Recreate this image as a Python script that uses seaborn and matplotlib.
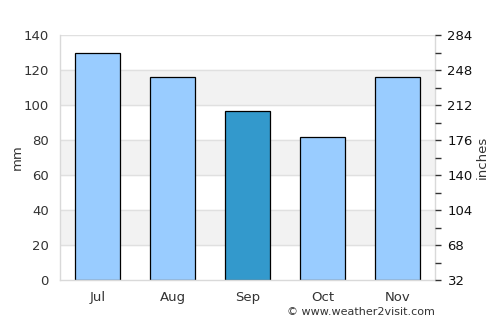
import pandas as pd
import numpy as np
import matplotlib.pyplot as plt
import seaborn as sns

# data
months = ["Jul", "Aug", "Sep", "Oct", "Nov"]
rain_mm = [129.5, 115.8, 96.5, 81.5, 116.2]
bar_colors = ["#99ccff", "#99ccff", "#3399cc", "#99ccff", "#99ccff"]
right_labels = ["32", "68", "104", "140", "176", "212", "248", "284"]

df = pd.DataFrame({"month": months, "mm": rain_mm})

sns.set_style("white")
plt.rcParams["font.family"] = ["DejaVu Sans"]

fig = plt.figure(figsize=(5, 3.25), dpi=100)
ax = fig.add_axes([0.12, 0.138, 0.75, 0.754])

# alternating bands
for lo in [20, 60, 100]:
    ax.axhspan(lo, lo + 20, color="#f2f2f2", zorder=0)
for y in range(20, 141, 20):
    ax.axhline(y, color="#e0e0e0", lw=1, zorder=0.5)

sns.barplot(data=df, x="month", y="mm", hue="month", palette=bar_colors,
            legend=False, width=0.6, edgecolor="black", linewidth=0.9,
            saturation=1, ax=ax, zorder=2)

ax.set_xlim(-0.5, 4.5)
ax.set_ylim(0, 140)
ax.set_yticks(range(0, 141, 20))
ax.set_ylabel("mm", color="#333333", fontsize=9.5)
ax.yaxis.set_label_coords(-0.096, 0.5)
ax.set_xlabel("")
ax.tick_params(axis="y", length=0, labelsize=9.5, labelcolor="#333333", pad=8)
ax.tick_params(axis="x", length=0, labelsize=9.5, labelcolor="#333333", pad=8)
for s in ["left", "bottom", "right", "top"]:
    ax.spines[s].set_color("#d9d9d9")
    ax.spines[s].set_linewidth(1)
ax.spines["top"].set_visible(False)

ax2 = ax.twinx()
ax2.set_ylim(0, 140)
ax2.set_yticks(range(0, 141, 20))
ax2.set_yticklabels(right_labels)
ax2.set_yticks(range(10, 141, 20), minor=True)
ax2.tick_params(axis="y", which="both", length=4, width=1, color="#333333",
                labelsize=9.5, labelcolor="#111111", pad=5)
ax2.set_ylabel("inches", color="#333333", fontsize=9.5)
ax2.yaxis.set_label_coords(1.109, 0.5)
for s in ax2.spines.values():
    s.set_visible(False)

fig.text(0.87, 0.025, "© www.weather2visit.com", ha="right", va="bottom",
         fontsize=8, color="#333333")

fig.savefig("out.png", dpi=100)
